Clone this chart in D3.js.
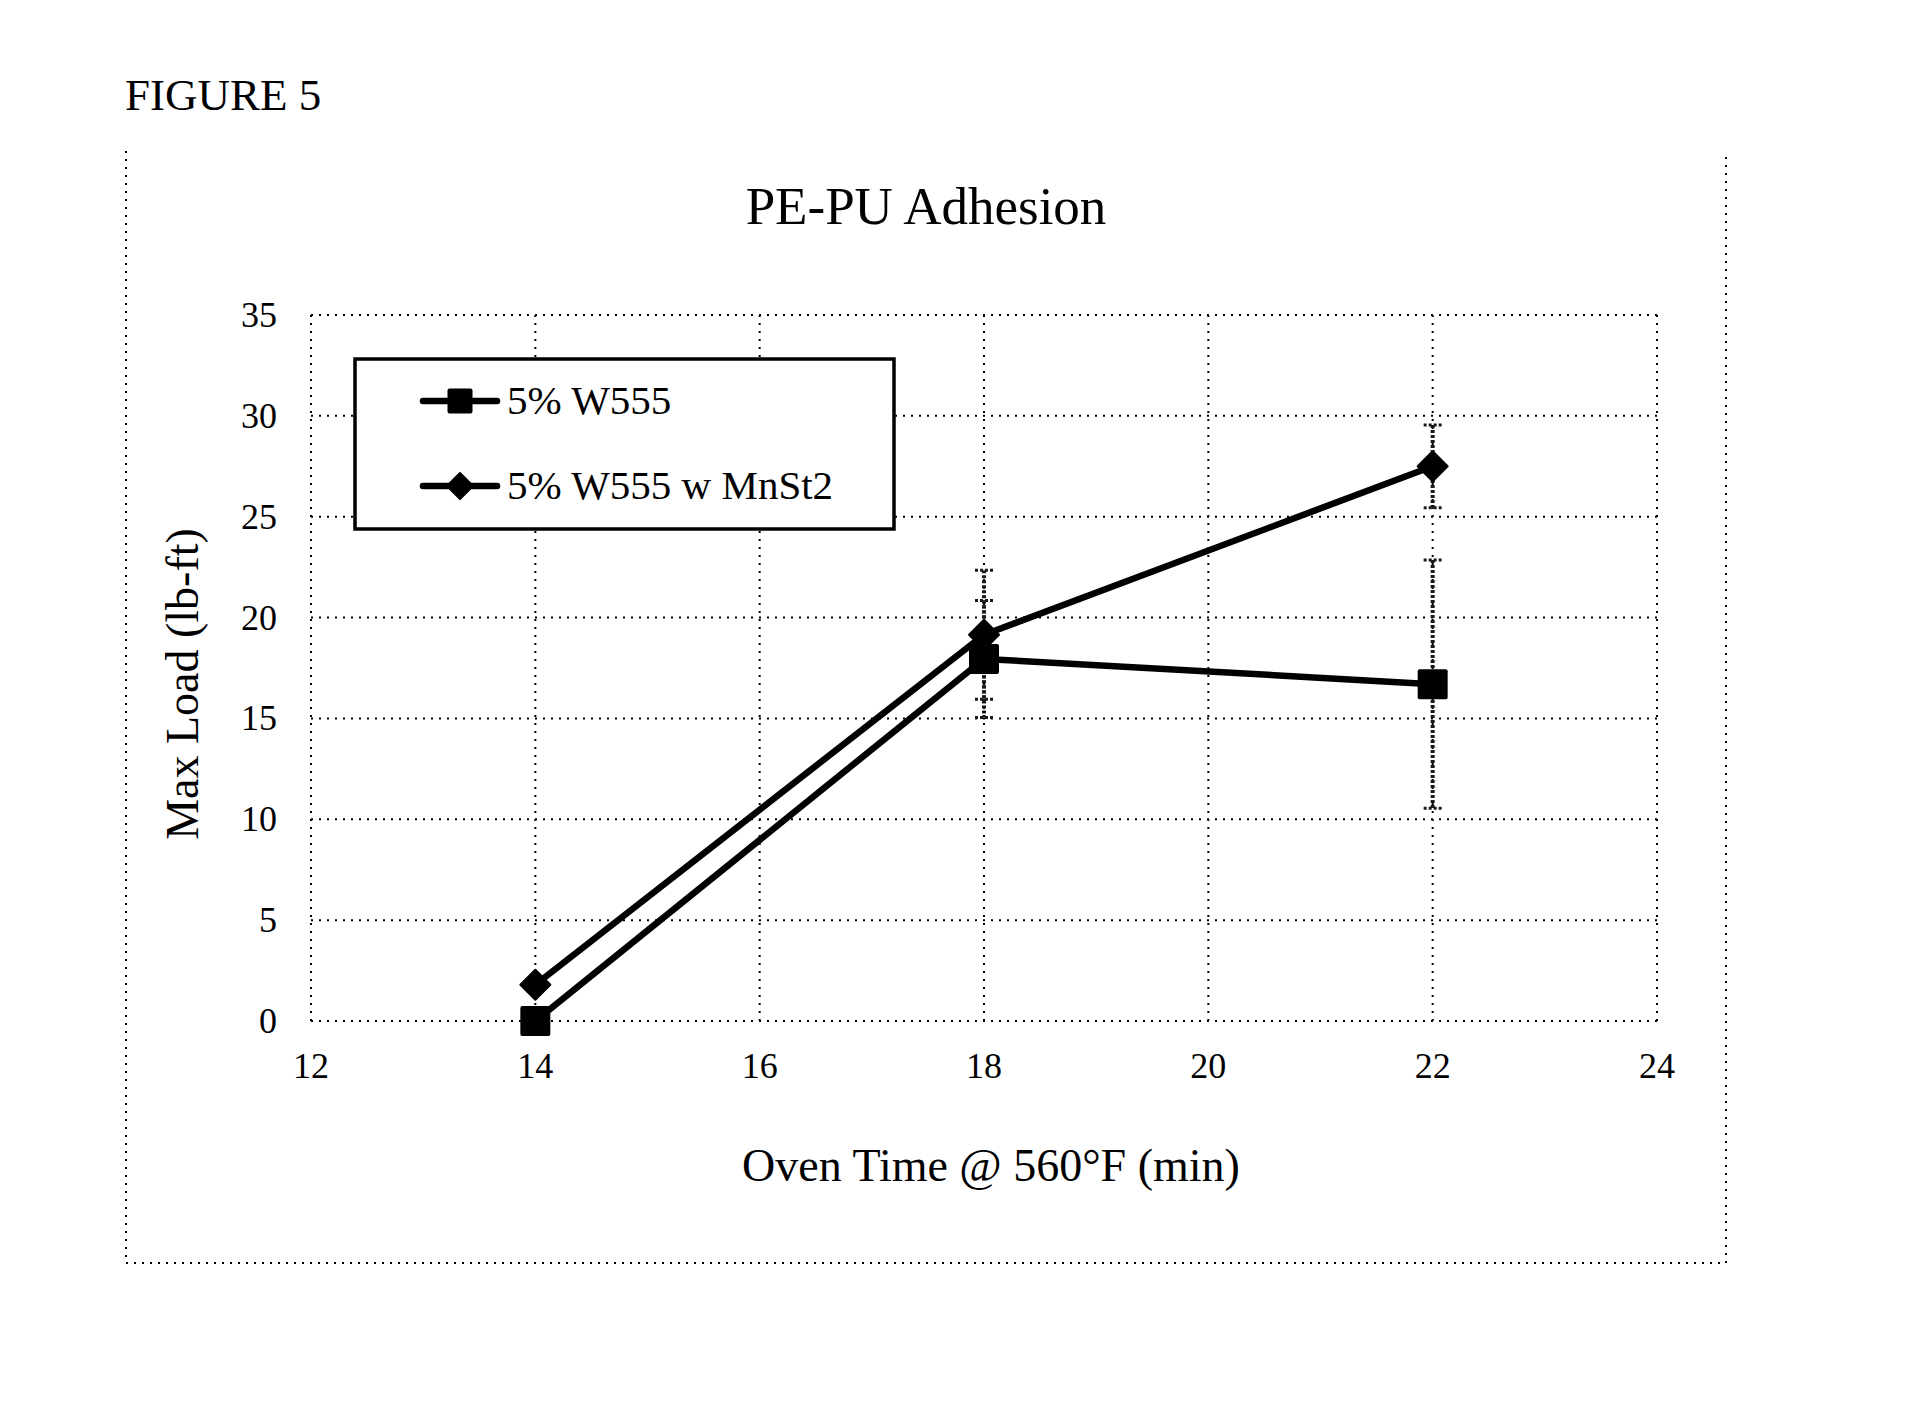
<!DOCTYPE html>
<html>
<head>
<meta charset="utf-8">
<script src="https://cdn.jsdelivr.net/npm/d3@7"></script>
<style>
  body { margin: 0; background: #fff; }
  text { font-family: "Liberation Serif", "Times New Roman", serif; fill: #000; }
</style>
</head>
<body>
<div id="chart"></div>
<script>
// data
const ovenTimes = [14, 18, 22];
const seriesNames = ["5% W555", "5% W555 w MnSt2"];
const w555Load = [0, 17.95, 16.7];
const w555Err = [0, 2.9, 6.15];
const mnst2Load = [1.8, 19.15, 27.5];
const mnst2Err = [0, 3.2, 2.05];
const xTicks = [12, 14, 16, 18, 20, 22, 24];
const yTicks = [0, 5, 10, 15, 20, 25, 30, 35];

const W = 1910, H = 1418;
const plot = {left: 311, right: 1657, top: 315, bottom: 1021};

const svg = d3.select("#chart")
    .append("svg")
    .attr("width", W)
    .attr("height", H)
    .attr("font-family", "Liberation Serif");

svg.append("rect").attr("width", W).attr("height", H).attr("fill", "#fff");

const dots = "2,6";

// outer chart frame (no top edge in the scan)
svg.append("path")
    .attr("d", `M126,151 V1263 H1726 V151`)
    .attr("fill", "none")
    .attr("stroke", "#000")
    .attr("stroke-width", 2)
    .attr("stroke-dasharray", dots);

svg.append("text")
    .attr("x", 125)
    .attr("y", 110)
    .style("font-size", "45px")
    .text("FIGURE 5");

svg.append("text")
    .attr("x", 926)
    .attr("y", 224)
    .attr("text-anchor", "middle")
    .style("font-size", "53px")
    .text("PE-PU Adhesion");

const x = d3.scaleLinear().domain([12, 24]).range([plot.left, plot.right]);
const y = d3.scaleLinear().domain([0, 35]).range([plot.bottom, plot.top]);

// dotted grid
const grid = svg.append("g")
    .attr("stroke", "#000")
    .attr("stroke-width", 2)
    .attr("stroke-dasharray", dots);

grid.selectAll(".hg")
    .data(yTicks)
    .enter()
    .append("line")
    .attr("x1", plot.left)
    .attr("x2", plot.right)
    .attr("y1", d => y(d))
    .attr("y2", d => y(d));

grid.selectAll(".vg")
    .data(xTicks)
    .enter()
    .append("line")
    .attr("x1", d => x(d))
    .attr("x2", d => x(d))
    .attr("y1", plot.top)
    .attr("y2", plot.bottom);

// tick labels
svg.append("g")
    .selectAll("text")
    .data(yTicks)
    .enter()
    .append("text")
    .attr("x", 277)
    .attr("y", d => y(d) + 12)
    .attr("text-anchor", "end")
    .style("font-size", "36px")
    .text(d => d);

svg.append("g")
    .selectAll("text")
    .data(xTicks)
    .enter()
    .append("text")
    .attr("x", d => x(d))
    .attr("y", 1078)
    .attr("text-anchor", "middle")
    .style("font-size", "36px")
    .text(d => d);

// axis titles
svg.append("text")
    .attr("x", 991)
    .attr("y", 1181)
    .attr("text-anchor", "middle")
    .style("font-size", "46px")
    .text("Oven Time @ 560°F (min)");

svg.append("text")
    .attr("transform", "translate(198,684) rotate(-90)")
    .attr("text-anchor", "middle")
    .style("font-size", "46px")
    .text("Max Load (lb-ft)");

const series = [
    {name: seriesNames[0], vals: w555Load, errs: w555Err, marker: "square"},
    {name: seriesNames[1], vals: mnst2Load, errs: mnst2Err, marker: "diamond"}
];

// error bars, drawn as a heavy broken line like the scan
series.forEach(s => {
    const pts = ovenTimes.map((t, i) => ({t, v: s.vals[i], e: s.errs[i]})).filter(p => p.e > 0);
    const eb = svg.append("g")
        .attr("stroke", "#1a1a1a")
        .attr("stroke-width", 4)
        .attr("stroke-dasharray", "3,2");
    eb.selectAll(".bar")
        .data(pts)
        .enter()
        .append("line")
        .attr("x1", p => x(p.t))
        .attr("x2", p => x(p.t))
        .attr("y1", p => y(p.v + p.e))
        .attr("y2", p => y(p.v - p.e));
    pts.forEach(p => {
        [p.v + p.e, p.v - p.e].forEach(v => {
            eb.append("line")
                .attr("x1", x(p.t) - 9)
                .attr("x2", x(p.t) + 9)
                .attr("y1", y(v))
                .attr("y2", y(v))
                .attr("stroke-width", 3);
        });
    });
});

const line = d3.line()
    .x(d => x(d[0]))
    .y(d => y(d[1]));

function drawMarker(g, type, cx, cy, size) {
    if (type === "square") {
        g.append("rect")
            .attr("x", cx - size / 2)
            .attr("y", cy - size / 2)
            .attr("width", size)
            .attr("height", size)
            .attr("rx", 2)
            .attr("fill", "#000");
    } else {
        const r = size / 2;
        g.append("path")
            .attr("d", `M${cx},${cy - r} L${cx + r},${cy} L${cx},${cy + r} L${cx - r},${cy} Z`)
            .attr("fill", "#000")
            .attr("stroke", "#000")
            .attr("stroke-width", 2)
            .attr("stroke-linejoin", "round");
    }
}

series.forEach(s => {
    const pts = ovenTimes.map((t, i) => [t, s.vals[i]]);
    svg.append("path")
        .datum(pts)
        .attr("d", line)
        .attr("fill", "none")
        .attr("stroke", "#000")
        .attr("stroke-width", 6.5)
        .attr("stroke-linejoin", "round");
    const g = svg.append("g");
    pts.forEach(p => drawMarker(g, s.marker, x(p[0]), y(p[1]), 30));
});

// legend
const legend = svg.append("g");
legend.append("rect")
    .attr("x", 355)
    .attr("y", 359)
    .attr("width", 539)
    .attr("height", 170)
    .attr("fill", "#fff")
    .attr("stroke", "#000")
    .attr("stroke-width", 3.5);

series.forEach((s, i) => {
    const cy = 401 + i * 85;
    legend.append("line")
        .attr("x1", 423)
        .attr("x2", 497)
        .attr("y1", cy)
        .attr("y2", cy)
        .attr("stroke", "#000")
        .attr("stroke-width", 6.5)
        .attr("stroke-linecap", "round");
    drawMarker(legend, s.marker, 460, cy, s.marker === "square" ? 25 : 26);
    legend.append("text")
        .attr("x", 507)
        .attr("y", cy + 13)
        .style("font-size", "41px")
        .text(s.name);
});
</script>
</body>
</html>
